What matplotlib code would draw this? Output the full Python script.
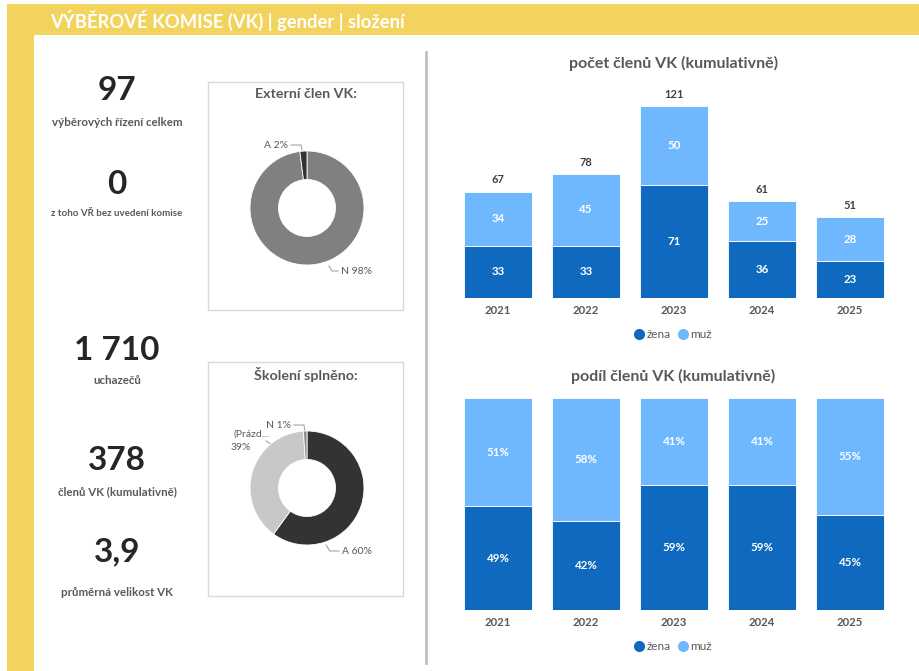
import matplotlib.pyplot as plt
from matplotlib.lines import Line2D
from matplotlib.patches import Rectangle

# data
years = ["2021", "2022", "2023", "2024", "2025"]
zena = [33, 33, 71, 36, 23]
muz = [34, 45, 50, 25, 28]
totals = [67, 78, 121, 61, 51]
zena_pct = [49, 42, 59, 59, 45]
muz_pct = [51, 58, 41, 41, 55]

ext_labels = ["N", "A"]
ext_vals = [98, 2]
skol_labels = ["A", "(Prázd...", "N"]
skol_vals = [60, 39, 1]

kpi_values = ["97", "0", "1 710", "378", "3,9"]
kpi_texts = ["výběrových řízení celkem", "z toho VŘ bez uvedení komise", "uchazečů",
             "členů VK (kumulativně)", "průměrná velikost VK"]

W, H = 920, 671
YELLOW = "#F1D35E"
DARK = "#0F69BE"
LIGHT = "#70B8FE"
GREY_T = "#595959"
plt.rcParams["font.family"] = ["Lato", "DejaVu Sans"]

fig = plt.figure(figsize=(W / 100, H / 100), dpi=100)
fig.patch.set_facecolor("white")


def px_axes(x0, y0, x1, y1):
    return fig.add_axes([x0 / W, 1 - y1 / H, (x1 - x0) / W, (y1 - y0) / H])


# background layer in pixel coordinates
bg = px_axes(0, 0, W, H)
bg.set_xlim(0, W)
bg.set_ylim(H, 0)
bg.axis("off")
bg.add_patch(Rectangle((7, 4), W - 7, 31, color=YELLOW, lw=0))
bg.add_patch(Rectangle((7, 4), 27, H, color=YELLOW, lw=0))
bg.text(50, 20, "VÝBĚROVÉ KOMISE (VK) | gender | složení", color="white",
        fontsize=13.2, fontweight="bold", va="center", ha="left")
bg.plot([426, 426], [52, 663], color="#c0c0c0", lw=2)
bg.add_patch(Rectangle((208, 82), 195, 228, fill=False, ec="#d9d9d9", lw=1))
bg.add_patch(Rectangle((208, 362), 195, 234, fill=False, ec="#d9d9d9", lw=1))
bg.text(306, 94, "Externí člen VK:", ha="center", va="center", fontsize=10.3,
        fontweight="bold", color=GREY_T)
bg.text(306, 375, "Školení splněno:", ha="center", va="center", fontsize=10.3,
        fontweight="bold", color=GREY_T)

# KPI column
kpi_y = [91, 184, 350, 461, 552]
sub_y = [122, 213, 381, 492, 592]
for v, t, y1, y2 in zip(kpi_values, kpi_texts, kpi_y, sub_y):
    bg.text(117, y1, v, ha="center", va="center", fontsize=24, fontweight="bold", color="#262626")
    fs = 7 if len(t) > 25 else 8.3
    bg.text(117, y2, t, ha="center", va="center", fontsize=fs, fontweight="bold", color=GREY_T)

# donut labels with leader lines
lab_kw = dict(fontsize=7.5, color=GREY_T, va="center")
bg.text(288, 145, "A 2%", ha="right", **lab_kw)
bg.plot([291, 301, 302], [145, 145, 150], color="#a6a6a6", lw=0.8)
bg.text(341, 271, "N 98%", ha="left", **lab_kw)
bg.plot([338, 332, 329], [271, 271, 266], color="#a6a6a6", lw=0.8)
bg.text(291, 425, "N 1%", ha="right", **lab_kw)
bg.plot([294, 304, 305], [425, 425, 432], color="#a6a6a6", lw=0.8)
bg.text(270, 434, "(Prázd...", ha="right", **lab_kw)
bg.text(251, 447, "39%", ha="right", **lab_kw)
bg.plot([266, 274], [441, 446], color="#a6a6a6", lw=0.8)
bg.text(342, 551, "A 60%", ha="left", **lab_kw)
bg.plot([326, 330, 339], [545, 551, 551], color="#a6a6a6", lw=0.8)

# donuts
R = 57
for cy, vals, cols in [(208, ext_vals, ["#808080", "#333333"]),
                       (488, skol_vals, ["#333333", "#c8c8c8", "#8c8c8c"])]:
    ax = px_axes(307 - R, cy - R, 307 + R, cy + R)
    ax.pie(vals, colors=cols, startangle=90, counterclock=False, radius=1,
           wedgeprops=dict(width=0.5, edgecolor="white", linewidth=0.6))
    ax.set_xlim(-1, 1)
    ax.set_ylim(-1, 1)
    ax.set_aspect("auto")

x = list(range(len(years)))
handles = [Line2D([], [], marker="o", ls="", color=DARK, markersize=7),
           Line2D([], [], marker="o", ls="", color=LIGHT, markersize=7)]


def style(ax, top_px, bottom_px, title, title_y):
    for s in ax.spines.values():
        s.set_visible(False)
    ax.set_yticks([])
    ax.set_xticks(x)
    ax.set_xticklabels(years, fontsize=8.2, color=GREY_T, fontweight="bold")
    ax.tick_params(axis="x", length=0, pad=5)
    ax.set_xlim(-58 / 88, 412 / 88)
    ax.set_facecolor("none")
    h = bottom_px - top_px
    ax.text(0.496, (bottom_px - title_y) / h, title, transform=ax.transAxes, ha="center",
            va="center", fontsize=11.5, fontweight="bold", color=GREY_T)
    ax.legend(handles, ["žena", "muž"], loc="center", ncol=2, frameon=False,
              bbox_to_anchor=(0.496, -37 / h), handlelength=0.8,
              handletextpad=0.25, columnspacing=0.6, fontsize=8.5, labelcolor=GREY_T)


# count chart
ax1 = px_axes(440, 90, 910, 298)
ax1.bar(x, zena, width=0.77, color=DARK, edgecolor="white", linewidth=0.6)
ax1.bar(x, muz, bottom=zena, width=0.77, color=LIGHT, edgecolor="white", linewidth=0.6)
ax1.set_ylim(0, 208 / 1.587)
for i in x:
    ax1.text(i, zena[i] / 2, str(zena[i]), ha="center", va="center", color="white",
             fontsize=8.3, fontweight="bold")
    ax1.text(i, zena[i] + muz[i] / 2, str(muz[i]), ha="center", va="center", color="white",
             fontsize=8.3, fontweight="bold")
    ax1.text(i, totals[i] + 7.5, str(totals[i]), ha="center", va="center", color="#404040",
             fontsize=8, fontweight="bold")
style(ax1, 90, 298, "počet členů VK (kumulativně)", 63)

# share chart
ax2 = px_axes(440, 398, 910, 610)
ax2.bar(x, zena_pct, width=0.77, color=DARK, edgecolor="white", linewidth=0.6)
ax2.bar(x, muz_pct, bottom=zena_pct, width=0.77, color=LIGHT, edgecolor="white", linewidth=0.6)
ax2.set_ylim(0, 100)
for i in x:
    ax2.text(i, zena_pct[i] / 2, f"{zena_pct[i]}%", ha="center", va="center", color="white",
             fontsize=8.3, fontweight="bold")
    ax2.text(i, zena_pct[i] + muz_pct[i] / 2, f"{muz_pct[i]}%", ha="center", va="center",
             color="white", fontsize=8.3, fontweight="bold")
style(ax2, 398, 610, "podíl členů VK (kumulativně)", 376)

fig.savefig("out.png", dpi=100)
